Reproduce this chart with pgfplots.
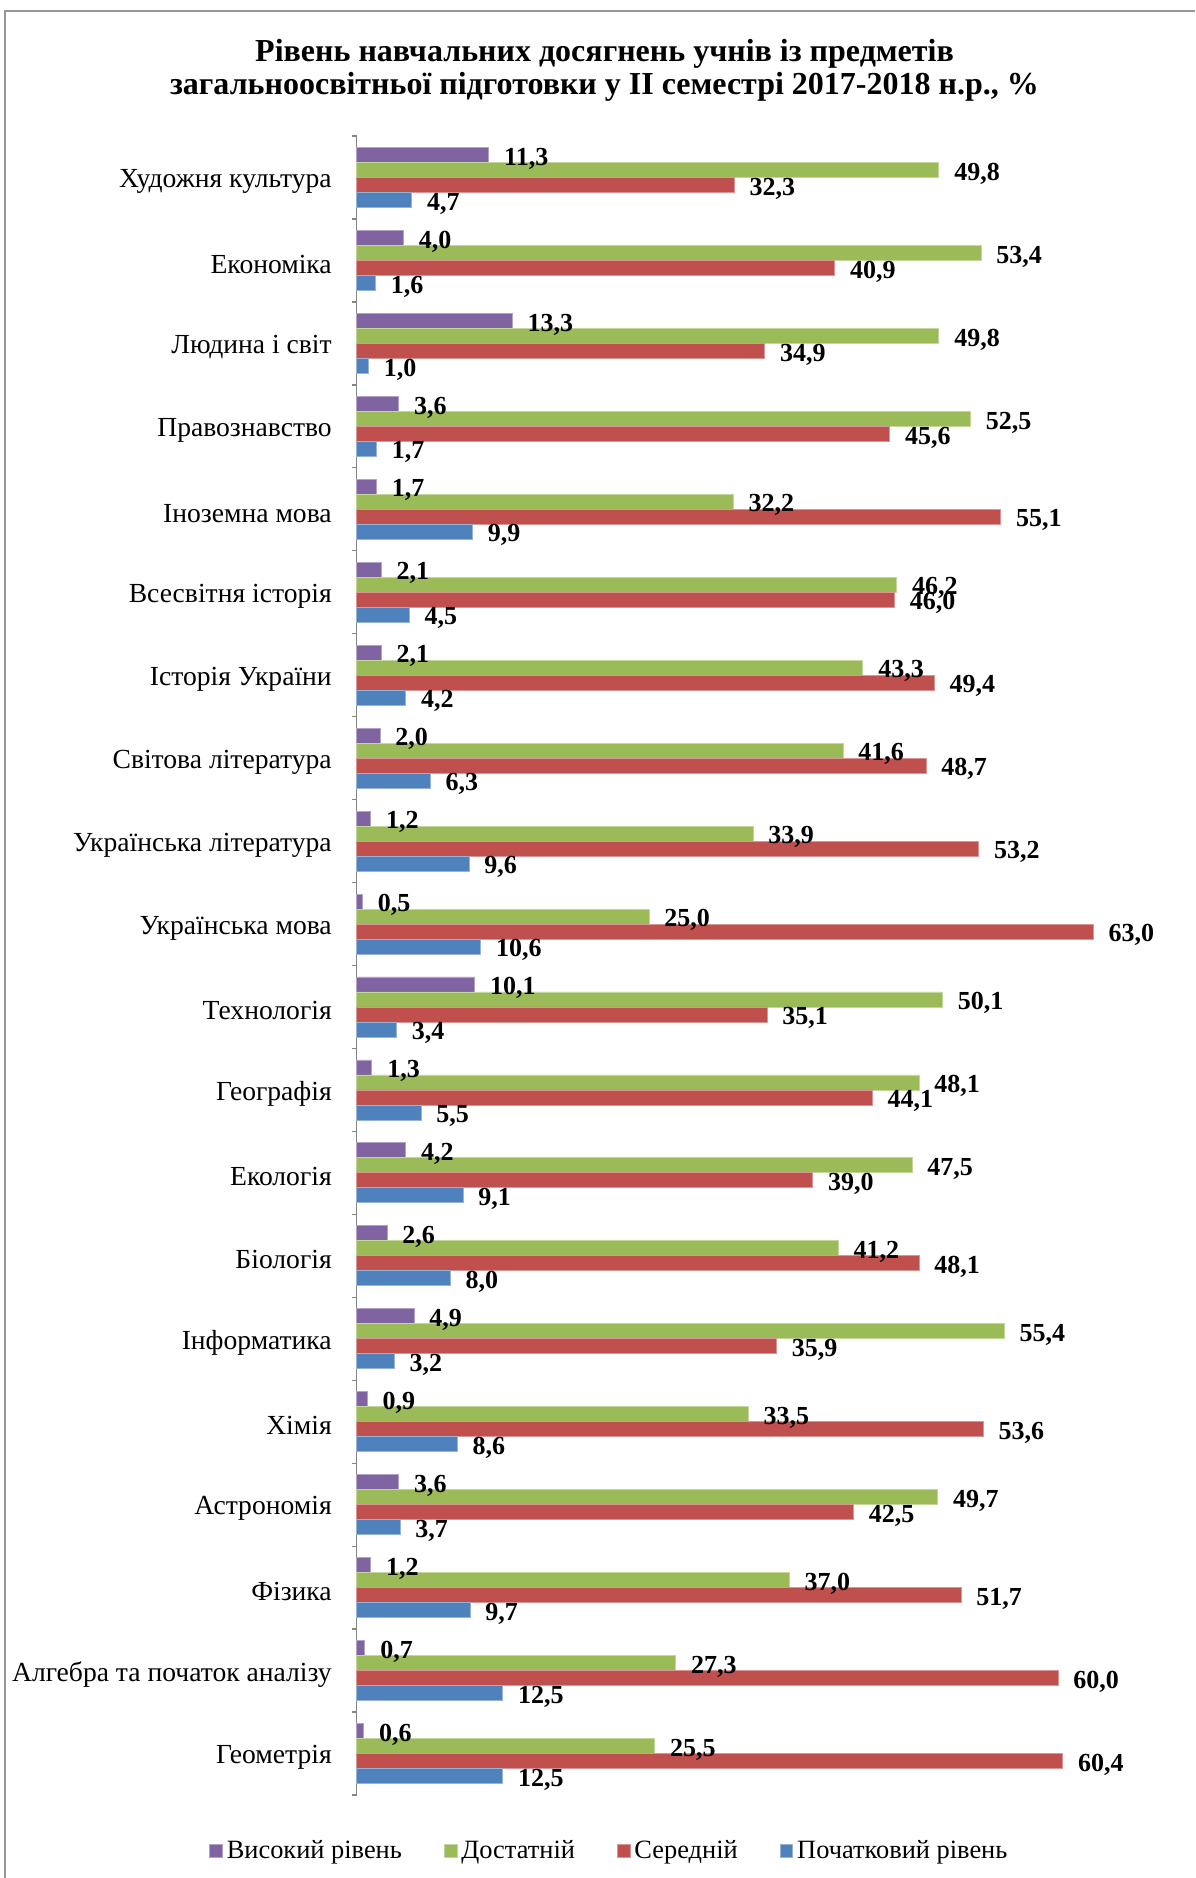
\documentclass[border=0pt]{standalone}
\usepackage{fontspec}
\setmainfont{Liberation Serif}
\usepackage{pgfplots}
\pgfplotsset{compat=1.18}
\usepackage{pgfplotstable}

\definecolor{cpurple}{HTML}{8064A2}
\definecolor{cgreen}{HTML}{9BBB59}
\definecolor{cred}{HTML}{C0504D}
\definecolor{cblue}{HTML}{4F81BD}
\definecolor{frame}{RGB}{150,150,150}
\definecolor{axisgray}{RGB}{134,134,134}

% y = position from the bottom (Геометрія = 0)
\pgfplotstableread{
y  high suff mid  init
0  0.6  25.5 60.4 12.5
1  0.7  27.3 60.0 12.5
2  1.2  37.0 51.7 9.7
3  3.6  49.7 42.5 3.7
4  0.9  33.5 53.6 8.6
5  4.9  55.4 35.9 3.2
6  2.6  41.2 48.1 8.0
7  4.2  47.5 39.0 9.1
8  1.3  48.1 44.1 5.5
9  10.1 50.1 35.1 3.4
10 0.5  25.0 63.0 10.6
11 1.2  33.9 53.2 9.6
12 2.0  41.6 48.7 6.3
13 2.1  43.3 49.4 4.2
14 2.1  46.2 46.0 4.5
15 1.7  32.2 55.1 9.9
16 3.6  52.5 45.6 1.7
17 13.3 49.8 34.9 1.0
18 4.0  53.4 40.9 1.6
19 11.3 49.8 32.3 4.7
}\marks

\begin{document}
\begin{tikzpicture}
\path[use as bounding box] (0,0) rectangle (597.5pt,-939pt);
\draw[frame, line width=1pt] (2.5pt,-939pt) -- (2.5pt,-5.35pt) -- (597.5pt,-5.35pt);

\node[anchor=base, font=\fontsize{16}{18}\selectfont\bfseries] at (302.25pt,-30.6pt)
  {Рівень навчальних досягнень учнів із предметів};
\node[anchor=base, font=\fontsize{16}{18}\selectfont\bfseries] at (302.25pt,-47.2pt)
  {загальноосвітньої підготовки у ІІ семестрі 2017-2018 н.р., \%};

\begin{axis}[
  at={(178.35pt,-68pt)}, anchor=north west,
  scale only axis,
  width=409.15pt, height=829.5pt,
  xmin=0, xmax=70,
  ymin=-0.5, ymax=19.5,
  xbar,
  clip=false,
  axis y line*=left,
  axis x line=none,
  y axis line style={draw=axisgray, line width=0.65pt},
  xtick=\empty,
  ytick={0,...,19},
  yticklabels={Геометрія, Алгебра та початок аналізу, Фізика, Астрономія, Хімія,
    Інформатика, Біологія, Екологія, Географія, Технологія, Українська мова,
    Українська література, Світова література, Історія України, Всесвітня історія,
    Іноземна мова, Правознавство, Людина і світ, Економіка, Художня культура},
  major tick length=0pt,
  minor ytick={-0.5,0.5,...,19.5},
  minor tick length=2.5pt,
  tick align=outside,
  minor tick style={draw=axisgray, line width=0.65pt},
  yticklabel style={font=\fontsize{13.8}{16}\selectfont, inner sep=0pt, xshift=-12.3pt, yshift=-2pt},
  nodes near coords,
  nodes near coords align={horizontal},
  every node near coord/.append style={
    font=\fontsize{13}{15}\selectfont\bfseries, inner sep=0pt, anchor=west, xshift=7.5pt, yshift=-1.8pt,
    /pgf/number format/.cd, fixed, fixed zerofill, precision=1, use comma,
    assume math mode=true},
  legend columns=4,
  legend style={at={(0.31,-0.0335)}, anchor=center, draw=none,
    font=\fontsize{13.2}{15}\selectfont,
    /tikz/every even column/.append style={column sep=19pt}},
  legend image code/.code={\fill[#1] (0pt,-3.2pt) rectangle (6.35pt,3.2pt);},
]
\addplot[bar width=0.1808, bar shift=0.2712, fill=cpurple, draw=cpurple!60!white, line width=0.4pt]
  table[x=high, y=y] {\marks};
\addplot[bar width=0.1808, bar shift=0.0904, fill=cgreen, draw=cgreen!60!white, line width=0.4pt]
  table[x=suff, y=y] {\marks};
\addplot[bar width=0.1808, bar shift=-0.0904, fill=cred, draw=cred!60!white, line width=0.4pt]
  table[x=mid, y=y] {\marks};
\addplot[bar width=0.1808, bar shift=-0.2712, fill=cblue, draw=cblue!60!white, line width=0.4pt]
  table[x=init, y=y] {\marks};
\legend{Високий рівень, Достатній, Середній, Початковий рівень}
\end{axis}
\end{tikzpicture}
\end{document}
